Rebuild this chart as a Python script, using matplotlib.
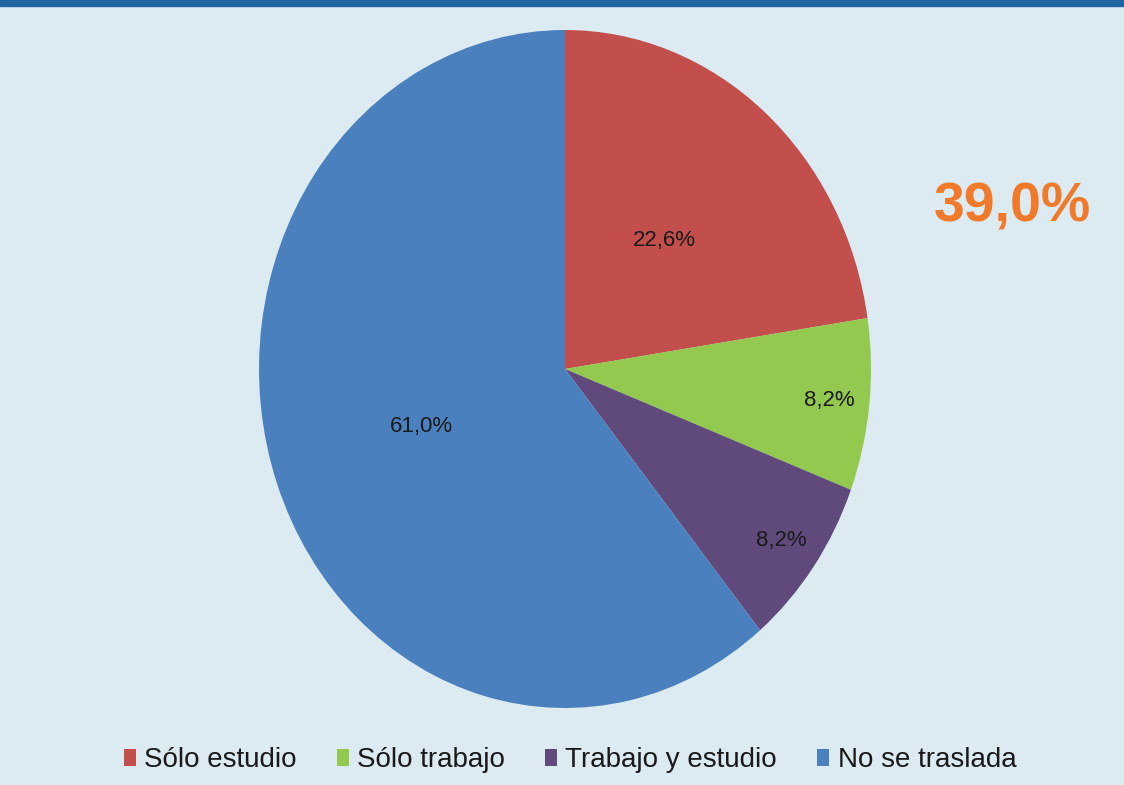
import numpy as np
import matplotlib.pyplot as plt
from matplotlib.patches import Rectangle

plt.rcParams['font.family'] = ['Liberation Sans', 'DejaVu Sans']

categories = ['Sólo estudio', 'Sólo trabajo', 'Trabajo y estudio', 'No se traslada']
shares = [22.6, 8.2, 8.2, 61.0]
slice_labels = ['22,6%', '8,2%', '8,2%', '61,0%']
total_moving = '39,0%'

colors = ['#c24f4c', '#93c94e', '#604a7c', '#4b80bf']
bg = '#dceaf2'

fig = plt.figure(figsize=(11.24, 7.85), dpi=100, facecolor=bg)

# dark band along the top edge
fig.patches.append(Rectangle((0, 1 - 6 / 785), 1, 6 / 785, transform=fig.transFigure,
                             color='#1f65a0', zorder=5))

ax = fig.add_axes([259 / 1124, 77 / 785, 612 / 1124, 678 / 785])
ax.set_facecolor(bg)
wedges, _ = ax.pie(shares, colors=colors, startangle=90, counterclock=False,
                   wedgeprops=dict(linewidth=0))
# slightly taller than wide
ax.set_aspect('auto')
ax.set_xlim(-1, 1)
ax.set_ylim(-1, 1)
ax.axis('off')

for w, share, lab in zip(wedges, shares, slice_labels):
    mid = np.deg2rad((w.theta1 + w.theta2) / 2)
    r = 0.5 if share > 20 else 0.87
    ax.text(r * np.cos(mid), r * np.sin(mid), lab, ha='center', va='center',
            fontsize=16, color='#1a1a1a')

fig.text(1012 / 1124, 1 - 222 / 785, total_moving, ha='center', va='baseline',
         fontsize=40, fontweight='bold', color='#f07a2a')

fig.legend(wedges, categories, loc='center', bbox_to_anchor=(570 / 1124, 1 - 760 / 785),
           ncol=4, frameon=False, fontsize=20, handlelength=0.43, handleheight=0.55,
           handletextpad=0.3, columnspacing=1.45, labelcolor='#1a1a1a')

fig.savefig('out.png', dpi=100, facecolor=bg)
